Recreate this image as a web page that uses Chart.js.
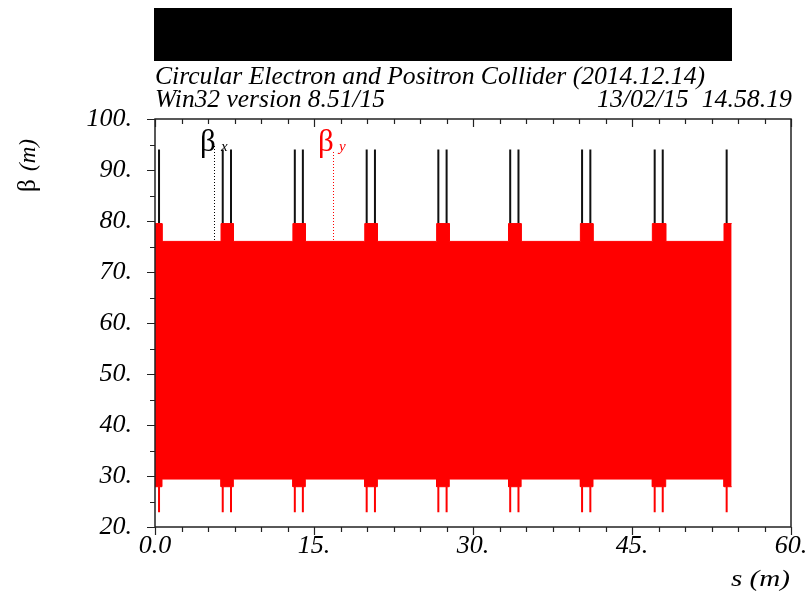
<!DOCTYPE html>
<html>
<head>
<meta charset="utf-8">
<script src="https://cdn.jsdelivr.net/npm/chart.js@4.4.0/dist/chart.umd.min.js"></script>
<style>
html, body { margin: 0; padding: 0; background: #fff; }
</style>
</head>
<body>
<canvas id="beta_chart" width="808" height="593"></canvas>
<script>
// straight sections (s in units of the axis)
const straightStart = [0.00, 6.23, 13.01, 19.79, 26.57, 33.35, 40.13, 46.92, 53.68];
const straightEnd = [0.66, 7.39, 14.18, 20.98, 27.76, 34.54, 41.32, 48.18, 54.40];
// positions of the beta peaks inside the straight sections
const peakS = [0.38, 6.39, 7.17, 13.19, 13.95, 19.97, 20.75, 26.73, 27.51, 33.51, 34.29, 40.29, 41.07, 47.14, 47.90, 53.93];
const betaXPeak = [94, 94, 94, 94, 94, 94, 94, 94, 94, 94, 94, 94, 94, 94, 94, 94];
const betaYDip = [22.9, 22.9, 22.9, 22.9, 22.9, 22.9, 22.9, 22.9, 22.9, 22.9, 22.9, 22.9, 22.9, 22.9, 22.9, 22.9];
// envelope of the fast betatron oscillation of beta_y
const betaYMaxArc = 76.0;
const betaYMaxStraight = 79.5;
const betaYMinArc = 29.4;
const betaYMinStraight = 27.9;

const xTicks = [0, 15, 30, 45, 60];
const yTicks = [20, 30, 40, 50, 60, 70, 80, 90, 100];

const serif = '"Liberation Serif", "Times New Roman", serif';

function envelope(straightVal, arcVal) {
    let pts = [];
    straightStart.forEach((s0, i) => {
        pts.push({x: s0, y: straightVal});
        pts.push({x: straightEnd[i], y: straightVal});
        if (i < straightStart.length - 1) {
            pts.push({x: straightEnd[i], y: arcVal});
            pts.push({x: straightStart[i + 1], y: arcVal});
        }
    });
    return pts;
}

let upperY = envelope(betaYMaxStraight, betaYMaxArc);
let lowerY = envelope(betaYMinStraight, betaYMinArc);

let dipY = [];
let peakX = [];
peakS.forEach((s, i) => {
    dipY.push({x: s, y: betaYMinStraight}, {x: s, y: betaYDip[i]}, {x: s, y: null});
    peakX.push({x: s, y: betaYMaxStraight}, {x: s, y: betaXPeak[i]}, {x: s, y: null});
});

function fitText(ctx, text, x, y, width) {
    const w = ctx.measureText(text).width;
    ctx.save();
    ctx.translate(x, y);
    if (width && w > 0) ctx.scale(width / w, 1);
    ctx.fillText(text, 0, 0);
    ctx.restore();
}

const framePlugin = {
    id: 'frame',
    afterDatasetsDraw(chart) {
        const ctx = chart.ctx;
        const {left, right, top, bottom} = chart.chartArea;
        const xs = chart.scales.x;
        const ys = chart.scales.y;
        ctx.save();
        ctx.strokeStyle = '#222';
        ctx.lineWidth = 1.5;
        ctx.strokeRect(left, top, right - left, bottom - top);
        ctx.lineWidth = 1.2;
        ctx.beginPath();
        for (let v = 0; v <= 60.001; v += 2.5) {
            const px = Math.round(xs.getPixelForValue(v)) + 0.5;
            const len = (v % 15 === 0) ? 8 : 5;
            ctx.moveTo(px, bottom); ctx.lineTo(px, bottom + len);
            ctx.moveTo(px, top); ctx.lineTo(px, top + len);
        }
        for (let v = 20; v <= 100.001; v += 5) {
            const py = Math.round(ys.getPixelForValue(v)) + 0.5;
            const len = (v % 10 === 0) ? 8 : 5;
            ctx.moveTo(left, py); ctx.lineTo(left - len, py);
        }
        ctx.stroke();
        ctx.restore();
    },
    afterDraw(chart) {
        const ctx = chart.ctx;
        const xs = chart.scales.x;
        ctx.save();
        // header block
        ctx.fillStyle = '#000';
        ctx.fillRect(154, 8, 578, 53);
        ctx.font = 'italic 26px ' + serif;
        ctx.textBaseline = 'alphabetic';
        fitText(ctx, 'Circular Electron and Positron Collider (2014.12.14)', 155, 84, 550);
        fitText(ctx, 'Win32 version 8.51/15', 155, 107, 230);
        fitText(ctx, '13/02/15  14.58.19', 597, 107, 195);

        // axis titles
        ctx.font = 'italic 23px ' + serif;
        ctx.textAlign = 'left';
        fitText(ctx, 's (m)', 731, 586, 59);
        ctx.save();
        ctx.translate(35, 192);
        ctx.rotate(-Math.PI / 2);
        ctx.font = '25px ' + serif;
        ctx.fillText('\u03b2', 0, 0);
        ctx.font = 'italic 23px ' + serif;
        ctx.fillText('(m)', 21, 0);
        ctx.restore();

        // legend markers
        const legend = [
            {s: 5.55, text: 'x', color: '#000', bx: 200, by: 151, top: 146},
            {s: 16.75, text: 'y', color: '#ff0000', bx: 318, by: 151, top: 152},
        ];
        legend.forEach((l) => {
            const px = Math.round(xs.getPixelForValue(l.s)) + 0.5;
            ctx.strokeStyle = l.color;
            ctx.lineWidth = 1;
            ctx.setLineDash([1, 2]);
            ctx.beginPath();
            ctx.moveTo(px, l.top);
            ctx.lineTo(px, chart.scales.y.getPixelForValue(betaYMaxArc));
            ctx.stroke();
            ctx.setLineDash([]);
            ctx.fillStyle = l.color;
            ctx.font = '31px ' + serif;
            ctx.fillText('\u03b2', l.bx, l.by);
            ctx.font = 'italic 15px ' + serif;
            ctx.fillText(l.text, l.bx + 21, l.by);
        });
        ctx.restore();
    },
};

const tickFont = {family: serif, style: 'italic', size: 26};

const betaChartConfig = {
    type: 'line',
    data: {
        datasets: [{
            label: 'beta_y max',
            data: upperY,
            borderColor: '#ff0000',
            borderWidth: 1,
            pointRadius: 0,
            fill: false,
        }, {
            label: 'beta_y min',
            data: lowerY,
            borderColor: '#ff0000',
            backgroundColor: '#ff0000',
            borderWidth: 1,
            pointRadius: 0,
            fill: '-1',
        }, {
            label: 'beta_y dips',
            data: dipY,
            borderColor: '#ff0000',
            borderWidth: 2,
            pointRadius: 0,
            fill: false,
        }, {
            label: 'beta_x',
            data: peakX,
            borderColor: '#111',
            borderWidth: 2,
            pointRadius: 0,
            fill: false,
        }],
    },
    options: {
        responsive: false,
        animation: false,
        layout: {
            padding: {top: 119, right: 17, left: 0, bottom: 0},
        },
        elements: {
            line: {tension: 0},
        },
        scales: {
            x: {
                type: 'linear',
                min: 0,
                max: 60,
                afterBuildTicks: (scale) => {
                    scale.ticks = xTicks.map((v) => ({value: v}));
                },
                afterFit: (scale) => {
                    scale.height = 66;
                    scale.paddingLeft = 0;
                    scale.paddingRight = 0;
                },
                ticks: {
                    font: tickFont,
                    color: '#000',
                    padding: 4,
                    maxRotation: 0,
                    autoSkip: false,
                    callback: (v) => (v === 0 ? '0.0' : v + '.'),
                },
                grid: {display: false, drawTicks: false},
                border: {display: false},
            },
            y: {
                min: 20,
                max: 100,
                afterBuildTicks: (scale) => {
                    scale.ticks = yTicks.map((v) => ({value: v}));
                },
                afterFit: (scale) => {
                    scale.width = 155;
                    scale.paddingTop = 0;
                    scale.paddingBottom = 0;
                },
                ticks: {
                    font: tickFont,
                    color: '#000',
                    padding: 23,
                    callback: (v) => v + '.',
                },
                grid: {display: false, drawTicks: false},
                border: {display: false},
            },
        },
        plugins: {
            legend: {display: false},
            tooltip: {enabled: false},
        },
    },
    plugins: [framePlugin],
};

const betaChart = new Chart(document.getElementById('beta_chart'), betaChartConfig);
</script>
</body>
</html>
